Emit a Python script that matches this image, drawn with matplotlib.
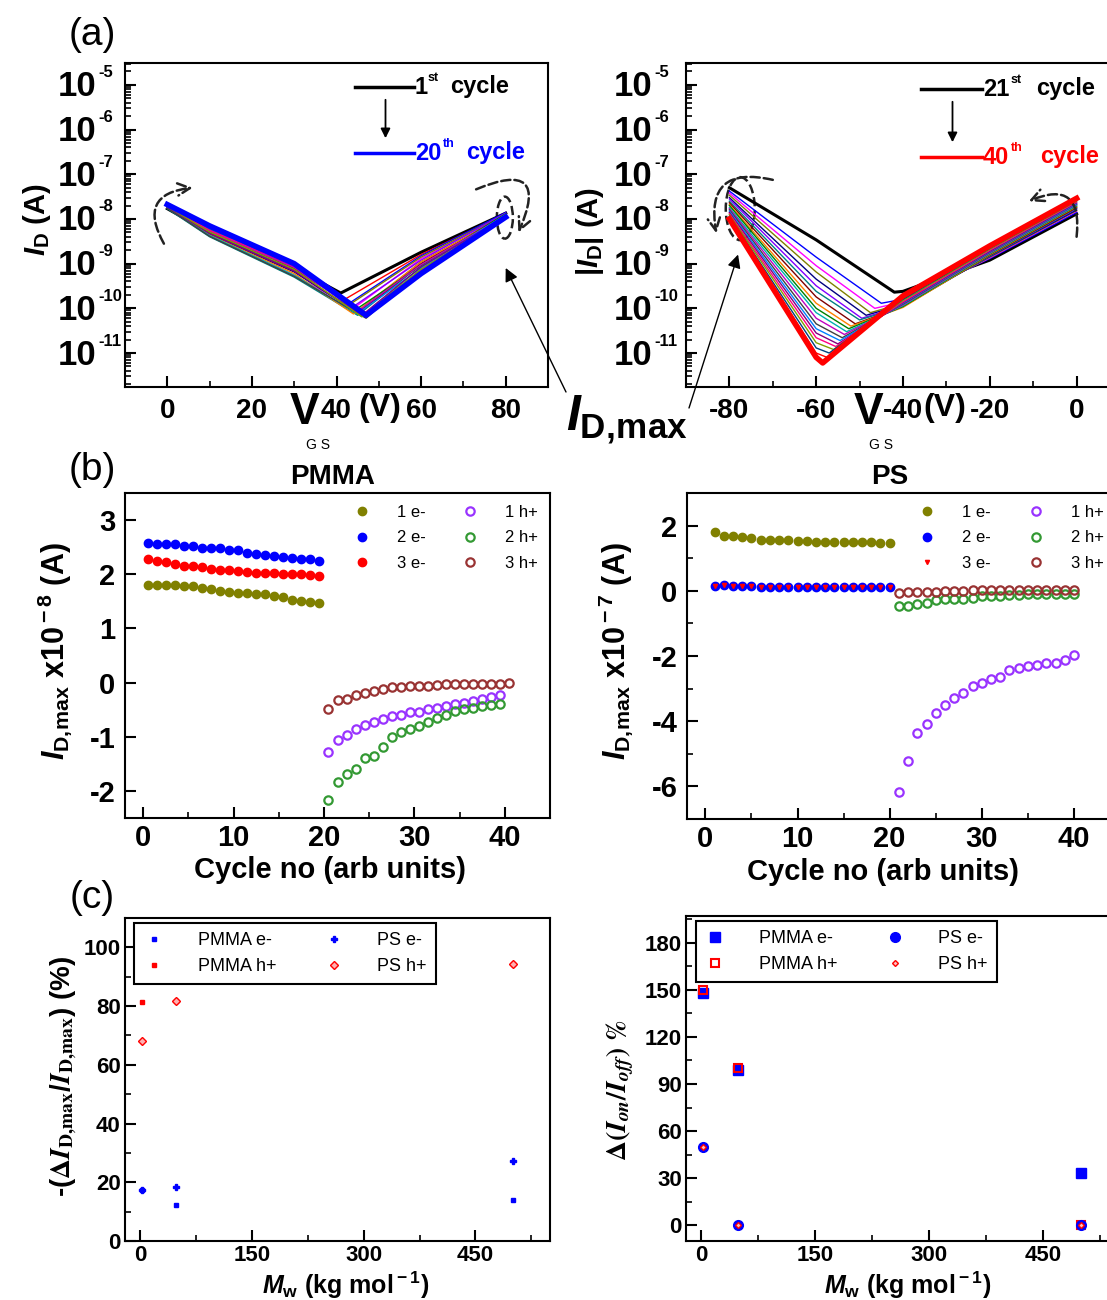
import numpy as np
import matplotlib
matplotlib.use('Agg')
import matplotlib.pyplot as plt
from matplotlib import transforms
from matplotlib.patches import Ellipse, FancyArrowPatch
from matplotlib.lines import Line2D
from matplotlib.ticker import MultipleLocator, LogLocator, NullFormatter

W, H = 1107, 1300

# ---------------- data: (a) transfer curves, one polyline per cycle ----------------
# PMMA, cycles 1..20, sampled at V = 0, 10, 30, Vmin, 60, 80
i0_pmma = [1.7e-8, 1.8e-8, 1.9e-8, 1.75e-8, 1.85e-8, 1.8e-8, 1.95e-8, 1.7e-8, 1.9e-8, 1.85e-8,
           2.0e-8, 1.8e-8, 1.9e-8, 1.75e-8, 2.0e-8, 1.85e-8, 1.95e-8, 1.9e-8, 2.0e-8, 2.1e-8]
i10_pmma = [5.0e-9, 4.6e-9, 4.8e-9, 4.2e-9, 5.2e-9, 4.5e-9, 5.5e-9, 4.0e-9, 5.0e-9, 4.4e-9,
            5.8e-9, 4.3e-9, 5.3e-9, 4.1e-9, 6.0e-9, 4.7e-9, 5.6e-9, 5.1e-9, 6.2e-9, 7.0e-9]
i30_pmma = [8.0e-10, 7.0e-10, 7.5e-10, 5.5e-10, 8.5e-10, 6.5e-10, 8.0e-10, 5.0e-10, 7.8e-10, 6.0e-10,
            9.0e-10, 5.5e-10, 8.2e-10, 5.2e-10, 9.2e-10, 6.8e-10, 8.8e-10, 7.5e-10, 9.5e-10, 1.0e-9]
vmin_pmma = [41, 42, 43, 44, 43, 45, 44, 45, 46, 44, 45, 46, 45, 47, 46, 46, 47, 46, 47, 47]
imin_pmma = [2.2e-10, 1.6e-10, 1.3e-10, 1.0e-10, 1.2e-10, 8.0e-11, 1.1e-10, 7.0e-11, 9.0e-11, 7.5e-11,
             1.0e-10, 6.5e-11, 8.5e-11, 6.0e-11, 9.0e-11, 7.0e-11, 8.0e-11, 6.5e-11, 7.5e-11, 7.0e-11]
i60_pmma = [1.8e-9, 1.6e-9, 1.5e-9, 1.3e-9, 1.4e-9, 1.1e-9, 1.2e-9, 9.5e-10, 1.0e-9, 1.1e-9,
            9.0e-10, 8.5e-10, 9.5e-10, 7.5e-10, 8.0e-10, 8.5e-10, 7.0e-10, 7.5e-10, 6.5e-10, 6.0e-10]
i80_pmma = [1.35e-8, 1.3e-8, 1.4e-8, 1.25e-8, 1.3e-8, 1.2e-8, 1.35e-8, 1.15e-8, 1.25e-8, 1.2e-8,
            1.3e-8, 1.15e-8, 1.2e-8, 1.1e-8, 1.25e-8, 1.15e-8, 1.2e-8, 1.1e-8, 1.15e-8, 1.1e-8]

# PS, cycles 21..40, sampled at V = -80, -60, Vmin, -40, -20, 0
im80_ps = [5.0e-8, 4.2e-8, 3.8e-8, 3.4e-8, 3.0e-8, 2.8e-8, 2.5e-8, 2.3e-8, 2.1e-8, 2.0e-8,
           1.8e-8, 1.7e-8, 1.6e-8, 1.5e-8, 1.4e-8, 1.3e-8, 1.25e-8, 1.15e-8, 1.1e-8, 1.0e-8]
im60_ps = [3.4e-9, 1.4e-9, 9.0e-10, 6.5e-10, 4.5e-10, 3.2e-10, 2.4e-10, 1.8e-10, 1.3e-10, 1.0e-10,
           8.0e-11, 6.0e-11, 4.5e-11, 3.5e-11, 2.8e-11, 2.2e-11, 1.7e-11, 1.3e-11, 1.0e-11, 8.0e-12]
vmin_ps = [-42, -45, -46.5, -47.5, -48.5, -49.5, -50, -51, -52, -52.5,
           -53, -53.5, -54, -54.5, -55, -55.5, -56, -57, -57.5, -58.5]
imin_ps = [2.3e-10, 1.3e-10, 1.0e-10, 8.0e-11, 7.0e-11, 6.0e-11, 5.5e-11, 4.5e-11, 4.0e-11, 3.5e-11,
           3.0e-11, 2.6e-11, 2.2e-11, 1.9e-11, 1.6e-11, 1.4e-11, 1.2e-11, 1.0e-11, 8.0e-12, 6.0e-12]
im40_ps = [2.4e-10, 1.6e-10, 1.4e-10, 1.3e-10, 1.2e-10, 1.15e-10, 1.1e-10, 1.1e-10, 1.05e-10, 1.1e-10,
           1.15e-10, 1.2e-10, 1.25e-10, 1.3e-10, 1.35e-10, 1.4e-10, 1.5e-10, 1.6e-10, 1.7e-10, 1.9e-10]
im20_ps = [1.2e-9, 1.3e-9, 1.35e-9, 1.4e-9, 1.45e-9, 1.5e-9, 1.5e-9, 1.55e-9, 1.6e-9, 1.65e-9,
           1.7e-9, 1.75e-9, 1.8e-9, 1.85e-9, 1.9e-9, 2.0e-9, 2.1e-9, 2.2e-9, 2.3e-9, 2.5e-9]
i0_ps = [1.3e-8, 1.4e-8, 1.5e-8, 1.55e-8, 1.6e-8, 1.7e-8, 1.75e-8, 1.8e-8, 1.9e-8, 1.95e-8,
         2.0e-8, 2.1e-8, 2.15e-8, 2.2e-8, 2.3e-8, 2.4e-8, 2.5e-8, 2.6e-8, 2.7e-8, 2.9e-8]

# ---------------- data: (b) I_D,max vs cycle ----------------
pmma_cyc_e = np.arange(0.5, 20)
pmma_cyc_h = np.arange(20.5, 40)
pmma_cyc_h3 = np.arange(20.5, 41)
pmma_1e = [1.80, 1.80, 1.80, 1.80, 1.78, 1.79, 1.75, 1.72, 1.70, 1.68,
           1.66, 1.65, 1.64, 1.63, 1.60, 1.58, 1.52, 1.51, 1.49, 1.47]
pmma_2e = [2.58, 2.56, 2.55, 2.55, 2.53, 2.53, 2.49, 2.49, 2.49, 2.45,
           2.45, 2.40, 2.37, 2.35, 2.33, 2.31, 2.30, 2.28, 2.28, 2.24]
pmma_3e = [2.28, 2.24, 2.22, 2.19, 2.16, 2.16, 2.13, 2.10, 2.08, 2.07,
           2.06, 2.05, 2.03, 2.02, 2.02, 2.01, 2.00, 2.00, 1.98, 1.96]
pmma_1h = [-1.28, -1.06, -0.97, -0.86, -0.79, -0.73, -0.67, -0.62, -0.59, -0.55,
           -0.54, -0.49, -0.46, -0.43, -0.40, -0.37, -0.34, -0.30, -0.26, -0.23]
pmma_2h = [-2.16, -1.84, -1.68, -1.59, -1.40, -1.36, -1.19, -1.00, -0.92, -0.86,
           -0.80, -0.73, -0.65, -0.59, -0.52, -0.48, -0.46, -0.43, -0.42, -0.40]
pmma_3h = [-0.48, -0.32, -0.30, -0.23, -0.20, -0.15, -0.12, -0.09, -0.09, -0.07,
           -0.07, -0.06, -0.05, -0.03, -0.03, -0.03, -0.03, -0.03, -0.02, -0.02, 0.0]

ps_cyc_e = np.arange(1, 21)
ps_cyc_h = np.arange(21, 41)
ps_1e = [1.79, 1.69, 1.67, 1.64, 1.61, 1.57, 1.57, 1.57, 1.57, 1.54,
         1.53, 1.51, 1.51, 1.51, 1.51, 1.49, 1.49, 1.49, 1.47, 1.47]
ps_2e = [0.15, 0.18, 0.15, 0.15, 0.15, 0.13, 0.13, 0.13, 0.13, 0.13,
         0.13, 0.13, 0.13, 0.13, 0.13, 0.13, 0.13, 0.13, 0.13, 0.13]
ps_3e = [0.15, 0.17, 0.15, 0.14, 0.14, 0.13, 0.12, 0.12, 0.12, 0.12,
         0.12, 0.12, 0.12, 0.12, 0.12, 0.12, 0.12, 0.12, 0.12, 0.12]
ps_1h = [-6.18, -5.23, -4.36, -4.08, -3.74, -3.49, -3.28, -3.15, -2.92, -2.84,
         -2.70, -2.64, -2.43, -2.36, -2.31, -2.29, -2.21, -2.21, -2.12, -1.98]
ps_2h = [-0.48, -0.48, -0.41, -0.36, -0.28, -0.26, -0.24, -0.24, -0.21, -0.17,
         -0.15, -0.15, -0.12, -0.12, -0.10, -0.10, -0.10, -0.10, -0.10, -0.10]
ps_3h = [-0.06, -0.04, -0.04, -0.03, -0.03, -0.01, 0.0, 0.0, 0.01, 0.01,
         0.02, 0.02, 0.02, 0.02, 0.02, 0.02, 0.02, 0.02, 0.02, 0.02]

# ---------------- data: (c) vs molecular weight ----------------
mw = [3, 48, 500]
drop_pmma_e = [17.5, 12.3, 14.0]
drop_ps_e = [17.5, 18.5, 27.2]
drop_pmma_h = [81.5, 81.7, 94.5]
drop_ps_h = [68.0, 81.7, 94.5]
onoff_pmma_e = [148, 99, 33]
onoff_pmma_h = [150, 100, 0]
onoff_ps_e = [50, 0, 0]
onoff_ps_h = [50, 0, 0]

# ---------------- style ----------------
plt.rcParams['font.family'] = ['Liberation Sans', 'DejaVu Sans']
plt.rcParams['font.weight'] = 'bold'
plt.rcParams['axes.unicode_minus'] = False
plt.rcParams['mathtext.fontset'] = 'custom'
plt.rcParams['mathtext.rm'] = 'Liberation Sans:bold'
plt.rcParams['mathtext.it'] = 'Liberation Sans:bold:italic'
plt.rcParams['mathtext.bf'] = 'Liberation Sans:bold'
plt.rcParams['axes.linewidth'] = 1.5
for a in ('xtick', 'ytick'):
    plt.rcParams[a + '.direction'] = 'in'
    plt.rcParams[a + '.major.width'] = 1.5
    plt.rcParams[a + '.minor.width'] = 1.2
    plt.rcParams[a + '.major.size'] = 8
    plt.rcParams[a + '.minor.size'] = 4

origin_cols = ['#ff0000', '#0000ff', '#ff00ff', '#808000', '#000080', '#8000ff', '#008080',
               '#800000', '#ff8000', '#008000', '#00b0b0', '#c000c0', '#404040', '#0080ff',
               '#800080', '#ff0080', '#80a000', '#004080']

fig = plt.figure(figsize=(W / 100, H / 100), dpi=100)


def fx(x):
    return x / W


def fy(y):
    return 1 - y / H


def add_axes(l, t, r, b):
    return fig.add_axes([l / W, 1 - b / H, (r - l) / W, (b - t) / H])


def log_labels(ax, exps, gap):
    for e in exps:
        t1 = transforms.offset_copy(ax.get_yaxis_transform(), fig=fig, x=-gap, y=-2, units='dots')
        ax.text(0, 10.0 ** e, '10', transform=t1, ha='right', va='center', fontsize=25,
                fontweight='bold', clip_on=False)
        t2 = transforms.offset_copy(ax.get_yaxis_transform(), fig=fig, x=-gap + 2, y=12, units='dots')
        ax.text(0, 10.0 ** e, str(e), transform=t2, ha='left', va='center', fontsize=12,
                fontweight='bold', clip_on=False)


def ellipse(ax, x, y, w, h):
    tr = fig.dpi_scale_trans + transforms.ScaledTranslation(x, y, ax.transData)
    ax.add_patch(Ellipse((0, 0), w / 100, h / 100, transform=tr, fill=False,
                         ls='--', lw=1.8, ec='#222222', clip_on=False))


def dashed_arrow(ax, a, b, rad):
    ax.annotate('', xy=b, xytext=a, annotation_clip=False,
                arrowprops=dict(arrowstyle='->', ls='--', lw=1.8, color='#222222',
                                connectionstyle='arc3,rad=%s' % rad, mutation_scale=22,
                                shrinkA=0, shrinkB=0))


def setup_log(ax):
    ax.set_yscale('log')
    ax.set_ylim(10 ** -11.76, 10 ** -4.51)
    ax.yaxis.set_major_locator(LogLocator(base=10, numticks=20))
    ax.yaxis.set_minor_locator(LogLocator(base=10, subs=np.arange(2, 10), numticks=20))
    ax.yaxis.set_major_formatter(NullFormatter())
    ax.yaxis.set_minor_formatter(NullFormatter())
    ax.tick_params(axis='x', labelsize=20, pad=8)


def cycle_label(x, y, num, sup, xs, xc, color):
    fig.text(fx(x), fy(y), num, ha='left', va='center', fontsize=17, color=color)
    fig.text(fx(xs), fy(y - 9), sup, ha='left', va='center', fontsize=9, color=color)
    fig.text(fx(xc), fy(y), 'cycle', ha='left', va='center', fontsize=17, color=color)


# ---------------- (a) left: PMMA ----------------
ax1 = add_axes(125, 63, 548, 387)
for i in range(20):
    v = [0, 10, 30, vmin_pmma[i], 60, 80]
    cur = [i0_pmma[i], i10_pmma[i], i30_pmma[i], imin_pmma[i], i60_pmma[i], i80_pmma[i]]
    if i == 0:
        col, lw = 'black', 2.2
    elif i == 19:
        col, lw = '#0000ff', 4.0
    else:
        col, lw = origin_cols[(i - 1) % len(origin_cols)], 1.0
    ax1.plot(v, cur, color=col, lw=lw, zorder=3 + (i == 19))
setup_log(ax1)
ax1.set_xlim(-10, 90)
ax1.xaxis.set_major_locator(MultipleLocator(20))
ax1.xaxis.set_minor_locator(MultipleLocator(10))
log_labels(ax1, range(-11, -4), 29)
dashed_arrow(ax1, (-0.8, 2.8e-9), (6, 5e-8), -0.75)
dashed_arrow(ax1, (73, 4.6e-8), (83, 5e-9), -1.25)
ellipse(ax1, 79.8, 1.07e-8, 16, 42)

# ---------------- (a) right: PS ----------------
ax2 = add_axes(686, 63, 1120, 387)
for i in range(20):
    v = [-80, -60, vmin_ps[i], -40, -20, 0]
    cur = [im80_ps[i], im60_ps[i], imin_ps[i], im40_ps[i], im20_ps[i], i0_ps[i]]
    if i == 0:
        col, lw = 'black', 2.2
    elif i == 19:
        col, lw = '#ff0000', 4.0
    else:
        col, lw = origin_cols[i % len(origin_cols)], 1.0
    ax2.plot(v, cur, color=col, lw=lw, zorder=3 + (i == 19))
setup_log(ax2)
ax2.set_xlim(-90, 10)
ax2.xaxis.set_major_locator(MultipleLocator(20))
ax2.xaxis.set_minor_locator(MultipleLocator(10))
log_labels(ax2, range(-11, -4), 34)
dashed_arrow(ax2, (-70, 7.5e-8), (-83, 4.8e-9), 0.75)
dashed_arrow(ax2, (0, 4e-9), (-11, 2.5e-8), 0.85)
ellipse(ax2, -77.5, 1.7e-8, 29, 63)

# (a) y labels, x labels, legends
fig.text(fx(37), fy(220), r'$I_{\rm D}$ (A)', rotation=90, ha='center', va='center', fontsize=21)
fig.text(fx(590), fy(232), r'|$I_{\rm D}$| (A)', rotation=90, ha='center', va='center', fontsize=21)
for xv, xg, xp in [(305, 318, 380), (868, 881, 945)]:
    fig.text(fx(xv), fy(413), 'V', ha='center', va='center', fontsize=32)
    fig.text(fx(xg), fy(445), 'G S', ha='center', va='center', fontsize=10, fontweight='normal')
    fig.text(fx(xp), fy(408), '(V)', ha='center', va='center', fontsize=23)

for (x0, x1, ytop, ybot, cb) in [(355, 414, 87, 153, '#0000ff'), (921, 982, 89, 157, '#ff0000')]:
    fig.add_artist(Line2D([fx(x0), fx(x1)], [fy(ytop), fy(ytop)], color='black', lw=2.5))
    fig.add_artist(Line2D([fx(x0), fx(x1)], [fy(ybot), fy(ybot)], color=cb, lw=2.5))
    xm = (x0 + x1) / 2 + 1
    fig.add_artist(FancyArrowPatch((fx(xm), fy(ytop + 10)), (fx(xm), fy(ybot - 12)),
                                   transform=fig.transFigure, arrowstyle='-|>',
                                   mutation_scale=14, lw=1.3, color='black'))
cycle_label(415, 87, '1', 'st', 428, 450, 'black')
cycle_label(415, 153, '20', 'th', 443, 466, '#0000ff')
cycle_label(983, 89, '21', 'st', 1011, 1036, 'black')
cycle_label(983, 157, '40', 'th', 1011, 1040, '#ff0000')

# I_D,max pointer
fig.text(fx(566), fy(420), r'$I_{\rm D,\!max}$', ha='left', va='center', fontsize=36)
ax1.annotate('', xy=(80, 8e-10), xycoords='data', xytext=(566, H - 392), textcoords='figure pixels',
             annotation_clip=False,
             arrowprops=dict(arrowstyle='-|>', color='black', lw=1.0, mutation_scale=20, shrinkA=0, shrinkB=0))
ax2.annotate('', xy=(-78, 1.6e-9), xycoords='data', xytext=(689, H - 408), textcoords='figure pixels',
             annotation_clip=False,
             arrowprops=dict(arrowstyle='-|>', color='black', lw=1.0, mutation_scale=20, shrinkA=0, shrinkB=0))

# ---------------- (b) ----------------
c_olive, c_blue, c_red = '#808000', '#0000ff', '#ff0000'
c_violet, c_green, c_wine = '#9933ff', '#339933', '#993333'

ax3 = add_axes(125, 493, 550, 818)
ax3.plot(pmma_cyc_e, pmma_1e, 'o', color=c_olive, ms=6, ls='none', label='1 e-')
ax3.plot(pmma_cyc_e, pmma_2e, 'o', color=c_blue, ms=6, ls='none', label='2 e-')
ax3.plot(pmma_cyc_e, pmma_3e, 'o', color=c_red, ms=6, ls='none', label='3 e-')
ax3.plot(pmma_cyc_h, pmma_1h, 'o', mfc='none', mec=c_violet, mew=1.6, ms=6, ls='none', label='1 h+')
ax3.plot(pmma_cyc_h, pmma_2h, 'o', mfc='none', mec=c_green, mew=1.6, ms=6, ls='none', label='2 h+')
ax3.plot(pmma_cyc_h3, pmma_3h, 'o', mfc='none', mec=c_wine, mew=1.6, ms=6, ls='none', label='3 h+')
ax3.set_xlim(-2, 45)
ax3.set_ylim(-2.5, 3.5)
ax3.xaxis.set_major_locator(MultipleLocator(10))
ax3.xaxis.set_minor_locator(MultipleLocator(5))
ax3.yaxis.set_major_locator(MultipleLocator(1))
ax3.tick_params(labelsize=21, pad=7)
ax3.tick_params(axis='x', pad=4)

ax4 = add_axes(687, 493, 1120, 819)
ax4.plot(ps_cyc_e, ps_1e, 'o', color=c_olive, ms=6, ls='none', label='1 e-')
ax4.plot(ps_cyc_e, ps_2e, 'o', color=c_blue, ms=6, ls='none', label='2 e-')
ax4.plot(ps_cyc_e, ps_3e, 'v', color=c_red, ms=3, ls='none', label='3 e-')
ax4.plot(ps_cyc_h, ps_1h, 'o', mfc='none', mec=c_violet, mew=1.6, ms=6, ls='none', label='1 h+')
ax4.plot(ps_cyc_h, ps_2h, 'o', mfc='none', mec=c_green, mew=1.6, ms=6, ls='none', label='2 h+')
ax4.plot(ps_cyc_h, ps_3h, 'o', mfc='none', mec=c_wine, mew=1.6, ms=6, ls='none', label='3 h+')
ax4.set_xlim(-2, 45)
ax4.set_ylim(-7, 3)
ax4.xaxis.set_major_locator(MultipleLocator(10))
ax4.xaxis.set_minor_locator(MultipleLocator(5))
ax4.yaxis.set_major_locator(MultipleLocator(2))
ax4.yaxis.set_minor_locator(MultipleLocator(1))
ax4.tick_params(labelsize=21, pad=7)
ax4.tick_params(axis='x', pad=4)

for ax, anchor in [(ax3, (1.0, 1.0)), (ax4, (0.99, 1.0))]:
    ax.legend(loc='upper right', bbox_to_anchor=anchor, ncol=2, frameon=False,
              prop={'size': 12, 'weight': 'normal'}, handlelength=1.0, handletextpad=1.6,
              columnspacing=2.2, labelspacing=0.65, borderaxespad=0.3)

fig.text(fx(333), fy(477), 'PMMA', ha='center', va='center', fontsize=20)
fig.text(fx(890), fy(477), 'PS', ha='center', va='center', fontsize=20)
fig.text(fx(55), fy(651), r'$I_{\rm D,\!max}$ x10$^{\rm -8}$ (A)', rotation=90, ha='center', va='center', fontsize=22)
fig.text(fx(616), fy(651), r'$I_{\rm D,\!max}$ x10$^{\rm -7}$ (A)', rotation=90, ha='center', va='center', fontsize=22)
fig.text(fx(330), fy(870), 'Cycle no (arb units)', ha='center', va='center', fontsize=21)
fig.text(fx(883), fy(872), 'Cycle no (arb units)', ha='center', va='center', fontsize=21)

# ---------------- (c) ----------------
ax5 = add_axes(125, 918, 550, 1241)
ax5.plot(mw, drop_pmma_e, 's', color='#0000ff', ms=3.5, ls='none', label='PMMA e-')
ax5.plot(mw, drop_pmma_h, 's', color='#ff0000', ms=3.5, ls='none', label='PMMA h+')
ax5.plot(mw, drop_ps_e, 'P', color='#0000ff', ms=5, ls='none', label='PS e-')
ax5.plot(mw, drop_ps_h, 'D', mfc='#ffb0b0', mec='#ff0000', mew=1.0, ms=4, ls='none', label='PS h+')
ax5.set_xlim(-20, 550)
ax5.set_ylim(0, 110)
ax5.xaxis.set_major_locator(MultipleLocator(150))
ax5.xaxis.set_minor_locator(MultipleLocator(75))
ax5.yaxis.set_major_locator(MultipleLocator(20))
ax5.yaxis.set_minor_locator(MultipleLocator(10))
ax5.tick_params(labelsize=16, pad=3)

ax6 = add_axes(686, 916, 1119, 1241)
ax6.plot(mw, onoff_pmma_e, 's', color='#0000ff', ms=6.5, ls='none', label='PMMA e-')
ax6.plot(mw, onoff_pmma_h, 's', mfc='none', mec='#ff0000', mew=1.5, ms=5.5, ls='none', label='PMMA h+')
ax6.plot(mw, onoff_ps_e, 'o', color='#0000ff', ms=7, ls='none', label='PS e-')
ax6.plot(mw, onoff_ps_h, 'D', mfc='#ffc0c0', mec='#ff0000', mew=1.0, ms=3, ls='none', label='PS h+')
ax6.set_xlim(-20, 550)
ax6.set_ylim(-10, 197)
ax6.xaxis.set_major_locator(MultipleLocator(150))
ax6.xaxis.set_minor_locator(MultipleLocator(75))
ax6.yaxis.set_major_locator(MultipleLocator(30))
ax6.yaxis.set_minor_locator(MultipleLocator(15))
ax6.tick_params(labelsize=16, pad=3)

for ax in (ax5, ax6):
    leg = ax.legend(loc='upper left', bbox_to_anchor=(0.022, 0.985), ncol=2, frameon=True, fancybox=False,
                    edgecolor='black', framealpha=1, prop={'size': 13, 'weight': 'normal'},
                    handlelength=1.2, handletextpad=1.8, columnspacing=2.6, labelspacing=0.5,
                    borderpad=0.5, borderaxespad=0)
    leg.get_frame().set_linewidth(1.5)

fig.text(fx(64), fy(1076), r'-($\mathbf{\Delta}\mathit{I}_{\mathsf{D,\!max}}$/$\mathit{I}_{\mathsf{D,\!max}}$) (%)',
         rotation=90, ha='center', va='center', fontsize=20, math_fontfamily='stix')
fig.text(fx(620), fy(1090), r'$\mathbf{\Delta(}\mathit{I}_{\mathit{on}}\mathbf{/}\mathit{I}_{\mathit{off}}\mathbf{)\ \%}$',
         rotation=90, ha='center', va='center', fontsize=20, math_fontfamily='stix')
fig.text(fx(346), fy(1285), r'$\mathit{M}_{\rm w}$ (kg mol$^{\rm -1}$)', ha='center', va='center', fontsize=18)
fig.text(fx(908), fy(1285), r'$\mathit{M}_{\rm w}$ (kg mol$^{\rm -1}$)', ha='center', va='center', fontsize=18)

# panel tags
for y, t in [(35, '(a)'), (470, '(b)'), (898, '(c)')]:
    fig.text(fx(92), fy(y), t, ha='center', va='center', fontsize=28, fontweight='normal')

fig.savefig('out.png', dpi=100)
